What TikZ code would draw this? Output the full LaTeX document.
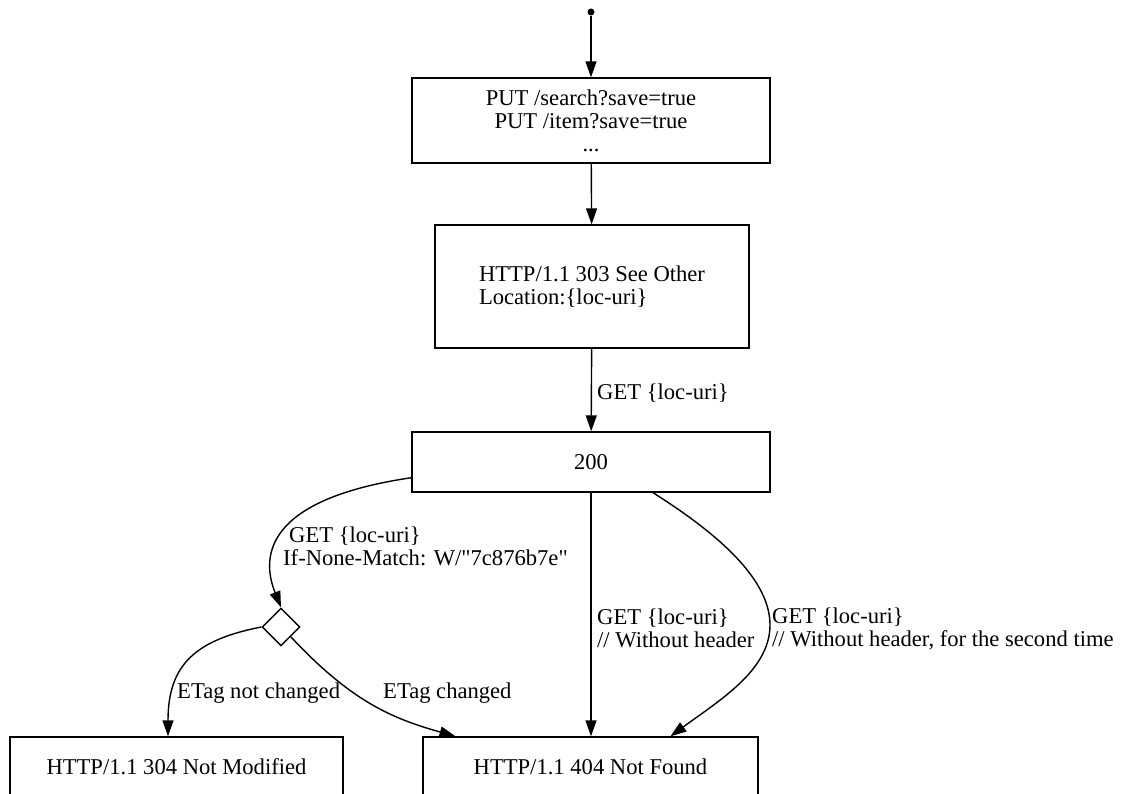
\documentclass[tikz,border=0pt]{standalone}
\usepackage{fontspec}
\setmainfont{Liberation Serif}[Ligatures=TeXOff]
\usepackage{tikz}
\usetikzlibrary{shapes.geometric}
\usetikzlibrary{arrows.meta}
\tikzset{box/.style={draw, rectangle, line width=1.4pt, inner sep=0pt, align=center}}
\tikzset{decision/.style={draw, diamond, aspect=1, line width=1.4pt, inner sep=0pt, minimum width=38pt, minimum height=38pt}}
\tikzset{lbl/.style={anchor=west, align=left, inner sep=0pt}}
\tikzset{flow/.style={line width=1.4pt, -{Triangle[length=16pt,width=11pt]}}}

\begin{document}
\begin{tikzpicture}[x=1pt,y=-1pt,font=\fontsize{22.6}{23}\selectfont]
\useasboundingbox (0,0) rectangle (1127,794);
\node[circle, fill, inner sep=0pt, minimum size=7pt] (start) at (591,12) {};
\node[box, minimum width=358pt, minimum height=85pt] (put) at (591,120.5) {PUT /search?save=true\\PUT /item?save=true\\...};
\node[box, minimum width=314pt, minimum height=123pt, align=left] (see) at (592,286.5) {HTTP/1.1 303 See Other\\Location:\{loc-uri\}};
\node[box, minimum width=358pt, minimum height=60pt] (ok) at (591,462) {200};
\node[decision] (etag) at (281,627) {};
\node[box, minimum width=333pt, minimum height=60pt] (notmod) at (176.5,767) {HTTP/1.1 304 Not Modified};
\node[box, minimum width=335pt, minimum height=60pt] (notfound) at (590.5,767) {HTTP/1.1 404 Not Found};
% requests
\draw[flow] (start) -- (put);
\draw[flow] (put) -- (see);
\draw[flow] (see) -- (ok);
\node[lbl] (get) at (597,393) {GET \{loc-uri\}};
% conditional get
\draw[flow] (ok.185) .. controls (260,500) and (262,560) .. (etag.north);
\node[lbl] (cond) at (283,546) {\hspace*{6pt}GET \{loc-uri\}\\If-None-Match: W/"7c876b7e"};
\draw[flow] (etag.west) .. controls (195,640) and (168,665) .. ([xshift=-8.5pt]notmod.north);
\node[lbl] (same) at (177,693) {ETag not changed};
\draw[flow] (etag.south east) .. controls (350,700) and (390,718) .. ([xshift=-135pt]notfound.north);
\node[lbl] (changed) at (383,693) {ETag changed};
% plain get
\draw[flow] (ok.south) -- (ok.south |- notfound.north);
\node[lbl] (plain) at (597,628.5) {GET \{loc-uri\}\\// Without header};
\draw[flow] ([xshift=62pt]ok.south) .. controls (720,535) and (770,580) .. (770,625) .. controls (770,670) and (720,700) .. ([xshift=80pt]notfound.north);
\node[lbl] (again) at (772,628.5) {GET \{loc-uri\}\\// Without header, for the second time};
\end{tikzpicture}
\end{document}
